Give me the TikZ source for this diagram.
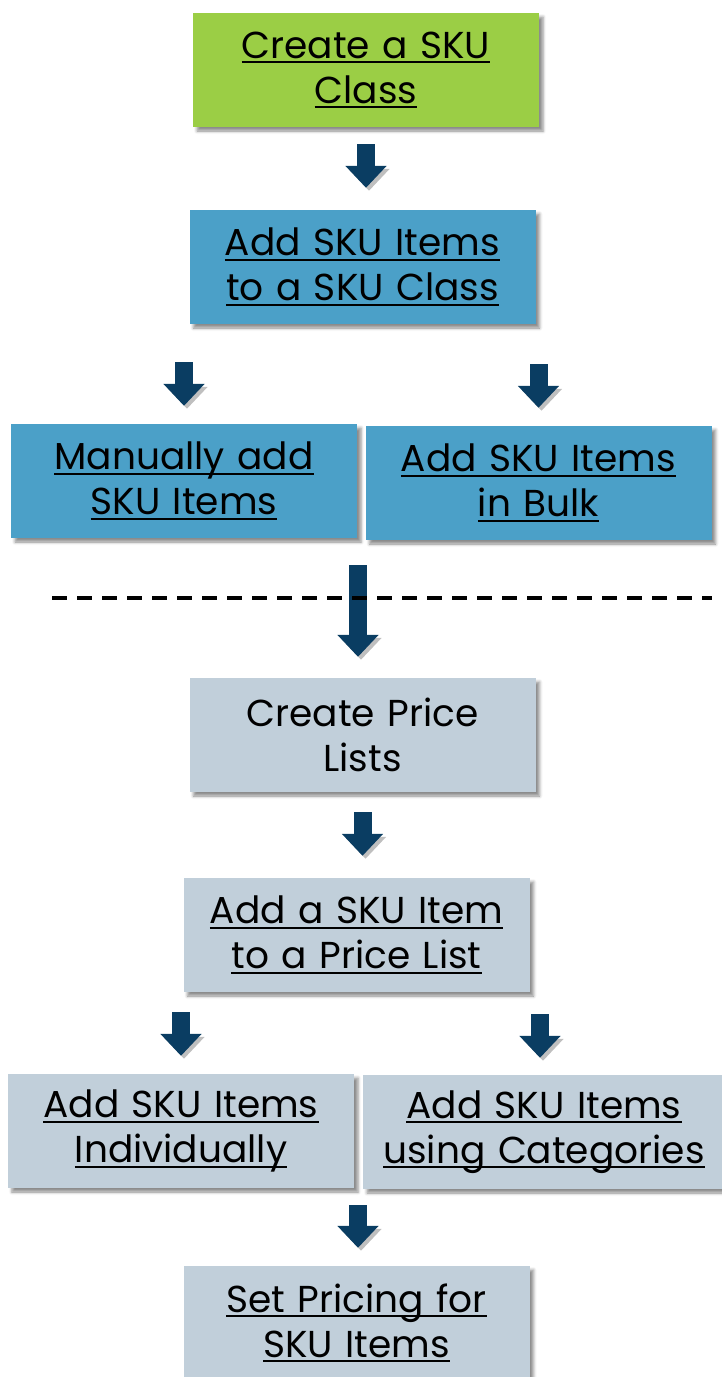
\documentclass[tikz,border=0pt]{standalone}
\usepackage{fontspec}
\setmainfont{Poppins}
\usepackage{xcolor}
\usetikzlibrary{arrows.meta,shadows.blur}

\definecolor{skugreen}{HTML}{9BCE45}
\definecolor{skublue}{HTML}{4BA0C8}
\definecolor{skugrey}{HTML}{C1CFDA}
\definecolor{arrowblue}{HTML}{0A3D62}

\newsavebox{\lnkbox}
\newcommand{\lnk}[1]{\sbox{\lnkbox}{#1}\leavevmode\rlap{\rule[-5pt]{\wd\lnkbox}{2pt}}\usebox{\lnkbox}}

\tikzset{
  box/.style={minimum width=346pt, minimum height=114pt, text width=340pt,
    align=center, inner sep=0pt,
    font=\fontsize{37.5}{45}\selectfont,
    blur shadow={shadow xshift=4pt, shadow yshift=-4pt, shadow blur radius=3pt, shadow opacity=45}},
  downarrow/.style={draw=arrowblue, line width=18pt,
    -{Triangle[width=40pt,length=22pt]},
    preaction={draw=black!25, transform canvas={shift={(3pt,-3pt)}}}}
}

\begin{document}
\begin{tikzpicture}[x=1pt,y=-1pt]
\useasboundingbox (0,0) rectangle (721,1377);

    \node[box,fill=skugreen] (cls) at (366,70) {\lnk{Create a SKU}\\\lnk{Class}};
    \node[box,fill=skublue] (itm) at (362.5,267) {\lnk{Add SKU Items}\\\lnk{to a SKU Class}};
    \node[box,fill=skublue] (man) at (184,481) {\lnk{Manually add}\\\lnk{SKU Items}};
    \node[box,fill=skublue] (blk) at (538.5,483) {\lnk{Add SKU Items}\\\lnk{in Bulk}};

    \node[box,fill=skugrey] (prl) at (362.5,735) {Create Price\\Lists};
    \node[box,fill=skugrey] (add) at (356.5,935) {\lnk{Add a SKU Item}\\\lnk{to a Price List}};
    \node[box,fill=skugrey] (ind) at (181,1131) {\lnk{Add SKU Items}\\\lnk{Individually}};
    \node[box,fill=skugrey,minimum width=362pt] (cat) at (544,1132) {\lnk{Add SKU Items}\\\lnk{using Categories}};
    \node[box,fill=skugrey] (set) at (356.5,1323) {\lnk{Set Pricing for}\\\lnk{SKU Items}};

    \coordinate (mid) at (358,540);
    \coordinate (low) at (358,1190);
    \coordinate (rgt) at (540,992);

    \draw[downarrow,shorten <=17pt,shorten >=22pt] (cls.south) -- (cls.south |- itm.north);
    \draw[downarrow,shorten <=38pt,shorten >=18pt] (man.north |- itm.south) -- (man.north);
    \draw[downarrow,shorten <=40pt,shorten >=18pt] (blk.north |- itm.south) -- (blk.north);
    \draw[downarrow,shorten <=25pt,shorten >=21pt] (mid) -- (mid |- prl.north);
    \draw[downarrow,shorten <=20pt,shorten >=22pt] (prl.south) -- (prl.south |- add.north);
    \draw[downarrow,shorten <=20pt,shorten >=18pt] (ind.north |- add.south) -- (ind.north);
    \draw[downarrow,shorten <=22pt,shorten >=17pt] (rgt) -- (rgt |- cat.north);
    \draw[downarrow,shorten <=15pt,shorten >=18pt] (low) -- (low |- set.north);

    \draw[line width=4pt,dash pattern=on 15pt off 10pt] (52,598) -- (712,598);
\end{tikzpicture}
\end{document}
